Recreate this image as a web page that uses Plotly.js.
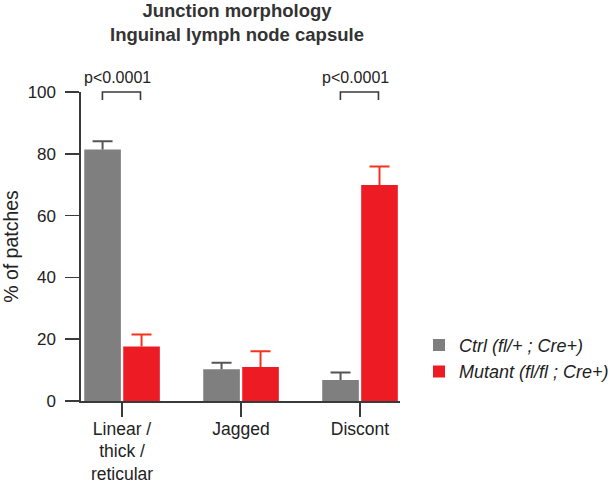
<!DOCTYPE html>
<html>
<head>
<meta charset="utf-8">
<script src="https://cdn.plot.ly/plotly-3.0.1.min.js"></script>
<style>html,body{margin:0;padding:0;background:#fff;}#chart{width:616px;height:485px;}</style>
</head>
<body>
<div id="chart"></div>
<script>
// ---- data ----
const categories = ["Linear /<br>thick /<br>reticular", "Jagged", "Discont"];
const seriesNames = ["<i>Ctrl (fl/+ ; Cre+)</i>", "<i>Mutant (fl/fl ; Cre+)</i>"];
const ctrlValues = [81.4, 10.3, 6.8];
const ctrlErrors = [2.7, 2.1, 2.4];
const mutantValues = [17.6, 11.0, 69.9];
const mutantErrors = [3.9, 5.1, 6.0];
const yTickVals = [0, 20, 40, 60, 80, 100];
const pLabels = ["p<0.0001", null, "p<0.0001"];
const bracketTop = 100;
const bracketLeg = 2.6;

const FONT = "Liberation Sans, Arial, Helvetica, sans-serif";
const GRAY = "#7f7f7f";
const RED = "#ed1c24";
const AXIS = "#3a3a3a";
const ERR_COLORS = ["#555555", "#f5331e"];

const BARGAP = 0.345, BARGROUPGAP = 0.06;

const traces = [
  {type: "bar", name: seriesNames[0], x: categories, y: ctrlValues, marker: {color: GRAY}},
  {type: "bar", name: seriesNames[1], x: categories, y: mutantValues, marker: {color: RED}}
];

const shapes = [];
const annotations = [];
const yMax = 100;

// one-sided (upper) error bars, placed at the centres of the grouped bars
const groupW = 1 - BARGAP, slotW = groupW / 2;
const capHalf = 0.084;
[[ctrlValues, ctrlErrors], [mutantValues, mutantErrors]].forEach(([vals, errs], s) => {
  const off = -groupW / 2 + slotW * (s + 0.5);
  vals.forEach((v, i) => {
    const cx = i + off, top = v + errs[i];
    shapes.push({type: "path", xref: "x", yref: "y", layer: "above",
      path: `M${cx},${v} L${cx},${top} M${cx - capHalf},${top} L${cx + capHalf},${top}`,
      line: {color: ERR_COLORS[s], width: 2}});
  });
});

pLabels.forEach((lab, i) => {
  if (!lab) return;
  const x0 = i - 0.165, x1 = i + 0.155;
  const yt = bracketTop / yMax, yb = (bracketTop - bracketLeg) / yMax;
  shapes.push({type: "path", xref: "x", yref: "paper",
    path: `M${x0},${yb} L${x0},${yt} L${x1},${yt} L${x1},${yb}`,
    line: {color: AXIS, width: 1.6}});
  annotations.push({x: i - 0.04, y: bracketTop, xref: "x", yref: "y", text: lab, showarrow: false,
    yanchor: "bottom", yshift: 4, font: {family: FONT, size: 16, color: "#222"}});
});

const layout = {
  width: 616, height: 485,
  margin: {l: 81, r: 216, t: 92, b: 84, autoexpand: false},
  paper_bgcolor: "#fff", plot_bgcolor: "#fff",
  font: {family: FONT, color: "#222", size: 16},
  title: {
    text: "<b>Junction morphology<br>Inguinal lymph node capsule</b>",
    font: {family: FONT, size: 18.5, color: "#333"},
    xref: "container", x: 237 / 616, xanchor: "center",
    yref: "container", y: 1 - 17 / 485, yanchor: "middle"
  },
  barmode: "group", bargap: BARGAP, bargroupgap: BARGROUPGAP,
  xaxis: {
    type: "category", range: [-0.345, 2.336], fixedrange: true,
    showline: true, linecolor: AXIS, linewidth: 1.6,
    ticks: "outside", ticklen: 14, tickwidth: 1.6, tickcolor: AXIS,
    tickfont: {family: FONT, size: 17.5, color: "#222"},
    ticklabelstandoff: -3,
    showgrid: false, zeroline: false
  },
  yaxis: {
    range: [0, 100], tickvals: yTickVals, fixedrange: true,
    showline: true, linecolor: AXIS, linewidth: 1.6,
    ticks: "outside", ticklen: 14, tickwidth: 1.6, tickcolor: AXIS,
    tickfont: {family: FONT, size: 17, color: "#222"},
    ticklabelstandoff: 6,
    showgrid: false, zeroline: false,
    title: {text: "% of patches", font: {family: FONT, size: 19.5, color: "#222"}, standoff: 8}
  },
  legend: {
    x: (419 - 81) / 319, xanchor: "left", y: 0.24, yanchor: "top",
    font: {family: FONT, size: 18, color: "#222"},
    tracegroupgap: 2, bgcolor: "rgba(0,0,0,0)"
  },
  shapes: shapes,
  annotations: annotations,
  showlegend: true
};

Plotly.newPlot("chart", traces, layout, {displayModeBar: false, staticPlot: true});
</script>
</body>
</html>
